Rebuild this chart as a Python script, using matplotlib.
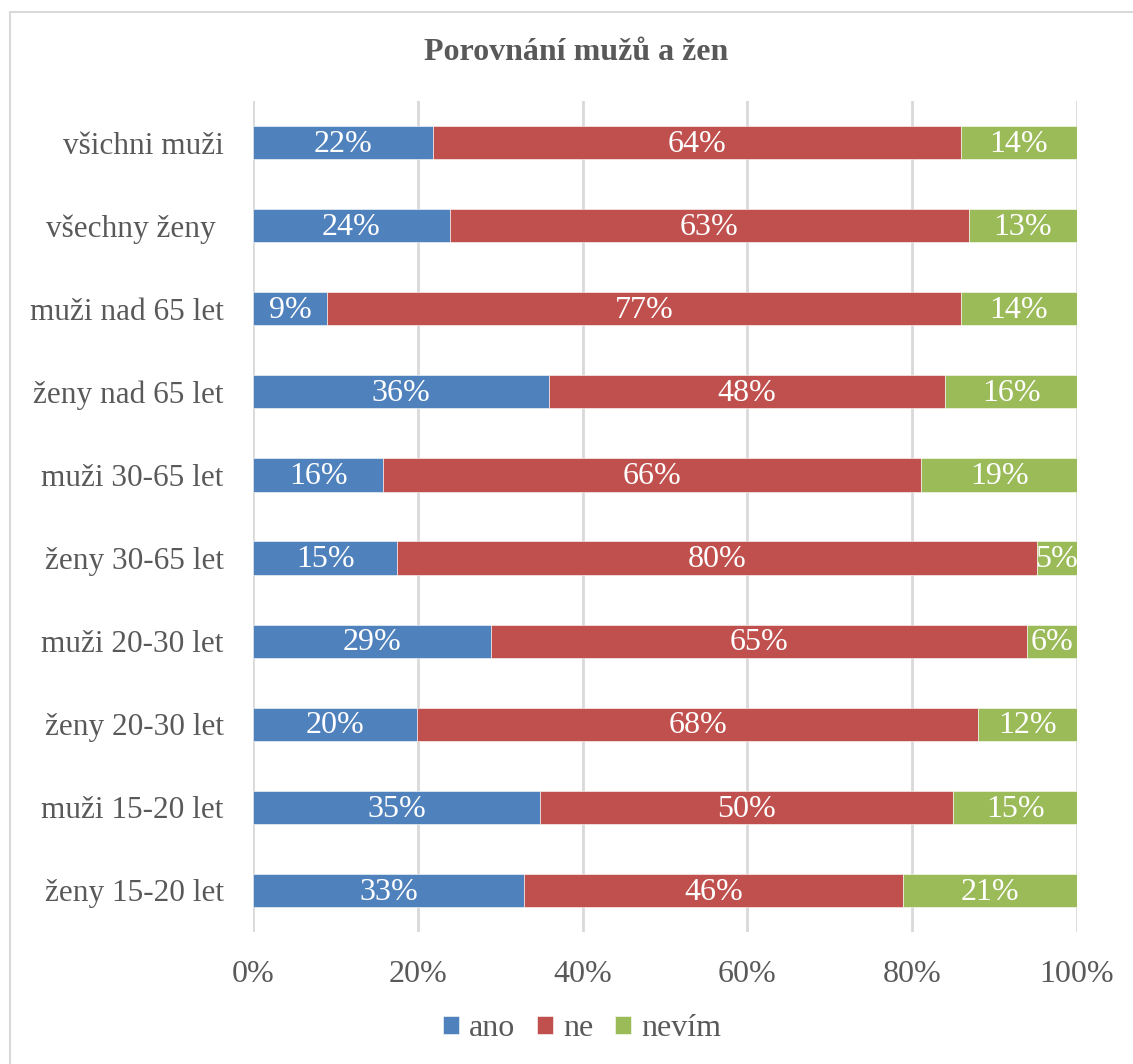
import numpy as np
import matplotlib
matplotlib.use("Agg")
import matplotlib.pyplot as plt
from matplotlib.patches import Rectangle

plt.rcParams['font.family'] = ['Liberation Serif', 'DejaVu Serif']

# Data (top to bottom as shown)
groups = ['všichni muži', 'všechny ženy ', 'muži nad 65 let', 'ženy nad 65 let',
          'muži 30-65 let', 'ženy 30-65 let', 'muži 20-30 let', 'ženy 20-30 let',
          'muži 15-20 let', 'ženy 15-20 let']
ano = [21.8, 23.9, 9.0, 35.9, 15.8, 17.5, 28.9, 19.9, 34.8, 32.9]
ne = [64.1, 63.0, 76.9, 48.1, 65.3, 77.6, 65.0, 68.1, 50.2, 46.0]
nevim = [14.1, 13.1, 14.1, 16.0, 18.9, 4.9, 6.1, 12.0, 15.0, 21.1]
ano_lbl = ['22%', '24%', '9%', '36%', '16%', '15%', '29%', '20%', '35%', '33%']
ne_lbl = ['64%', '63%', '77%', '48%', '66%', '80%', '65%', '68%', '50%', '46%']
nevim_lbl = ['14%', '13%', '14%', '16%', '19%', '5%', '6%', '12%', '15%', '21%']

colors = ['#4F81BD', '#C0504D', '#9BBB59']
gray = '#595959'

fig = plt.figure(figsize=(11.33, 10.64), dpi=100)
ax = fig.add_axes([253/1133, 1 - 932/1064, 824/1133, 831/1064])

y = np.arange(len(groups))[::-1]
series = [(ano, ano_lbl, 'ano'), (ne, ne_lbl, 'ne'), (nevim, nevim_lbl, 'nevím')]
left = np.zeros(len(groups))
for (vals, lbls, name), c in zip(series, colors):
    vals = np.array(vals)
    ax.barh(y, vals, left=left, height=0.4, color=c, edgecolor='white',
            linewidth=0.4, label=name, zorder=3)
    for yi, l, v, t in zip(y, left, vals, lbls):
        ax.text(l + v/2, yi - 0.02, t, ha='center', va='center', color='white',
                fontsize=23, zorder=4)
    left = left + vals

ax.set_xlim(0, 100)
ax.set_ylim(-0.5, len(groups) - 0.5)
ax.set_xticks(np.arange(0, 101, 20))
ax.set_xticklabels([f'{v}%' for v in range(0, 101, 20)])
ax.set_yticks(y)
ax.set_yticklabels(groups)
ax.tick_params(axis='x', labelsize=23, colors=gray, length=0, pad=20)
ax.tick_params(axis='y', labelsize=22.5, colors=gray, length=0, pad=21)
ax.grid(axis='x', color='#D9D9D9', linewidth=2, zorder=0)
for s in ax.spines.values():
    s.set_visible(False)

fig.text(576/1133, 1 - 52/1064, 'Porovnání mužů a žen', ha='center', va='center',
         fontsize=23, fontweight='bold', color=gray)

leg = fig.legend(loc='center', bbox_to_anchor=(582/1133, 1 - 1029/1064), ncol=3,
                 frameon=False, fontsize=23, handlelength=0.5, handleheight=0.5,
                 handletextpad=0.3, columnspacing=0.7, labelcolor=gray)

fig.patches.append(Rectangle((10/1133, -0.01), 1.2, 1 - 12/1064 + 0.01,
                             transform=fig.transFigure, fill=False,
                             edgecolor='#D9D9D9', linewidth=1.5))

fig.savefig('out.png', dpi=100)
